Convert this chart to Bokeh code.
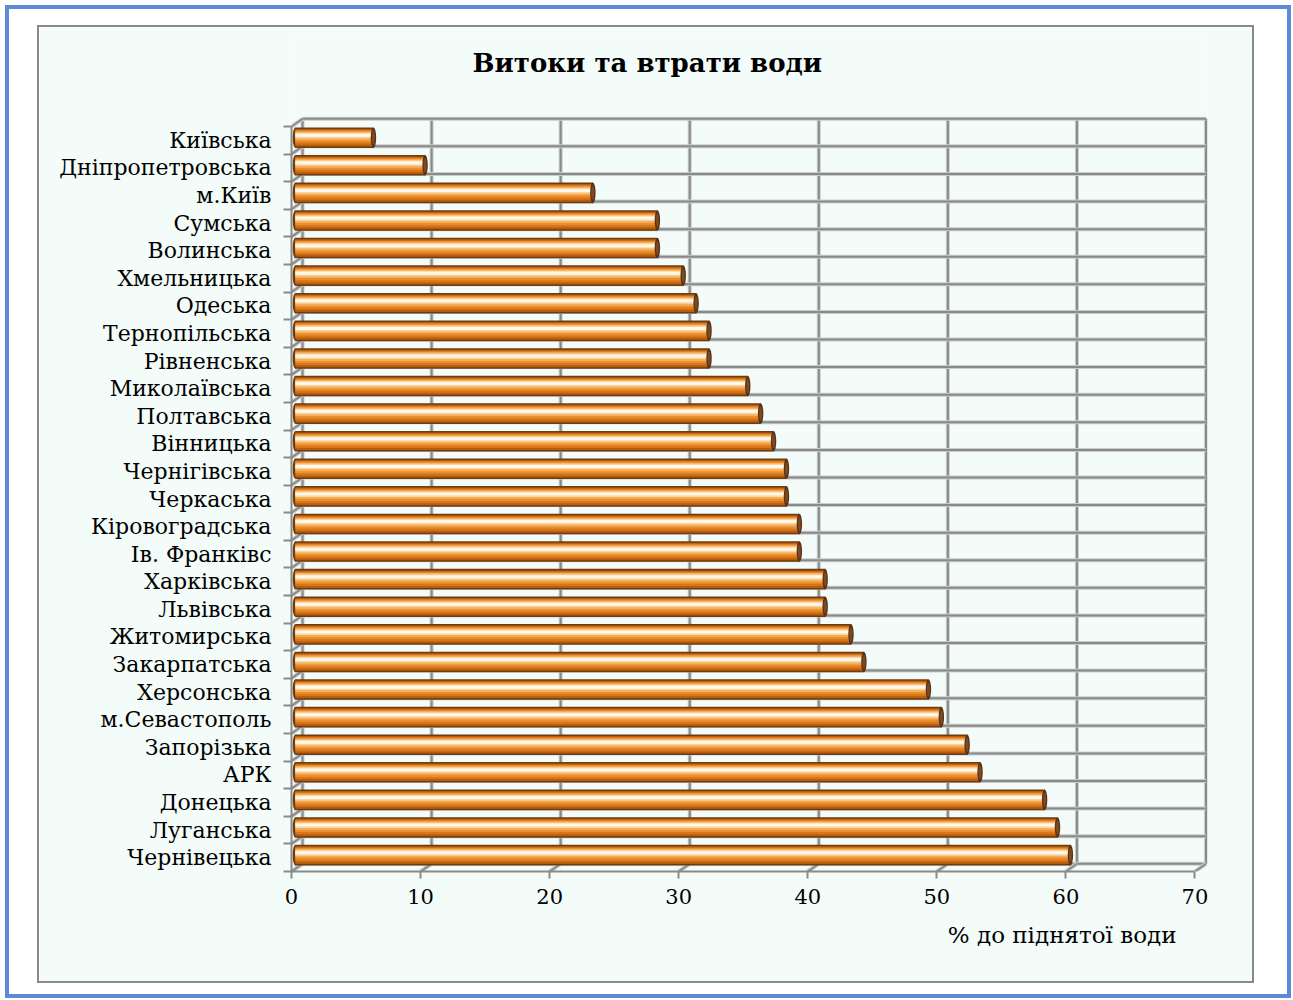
from bokeh.plotting import figure
from bokeh.models import Range1d, FixedTicker, Title, Label
from bokeh.layouts import column
from bokeh.embed import file_html
from bokeh.resources import INLINE

# ---------------- data ----------------
regions = ["Київська", "Дніпропетровська", "м.Київ", "Сумська", "Волинська",
           "Хмельницька", "Одеська", "Тернопільська", "Рівненська", "Миколаївська",
           "Полтавська", "Вінницька", "Чернігівська", "Черкаська", "Кіровоградська",
           "Ів. Франківс", "Харківська", "Львівська", "Житомирська", "Закарпатська",
           "Херсонська", "м.Севастополь", "Запорізька", "АРК", "Донецька",
           "Луганська", "Чернівецька"]
losses = [6, 10, 23, 28, 28, 30, 31, 32, 32, 35, 36, 37, 38, 38, 39, 39, 41, 41,
          43, 44, 49, 50, 52, 53, 58, 59, 60]
x_ticks = [0, 10, 20, 30, 40, 50, 60, 70]
title_text = "Витоки та втрати води"
x_title = "% до піднятої води"

# ---------------- style ----------------
FONT = "DejaVu Serif"
BG = "#F3FCF9"
GRID_DARK = "#8a8a8a"
GRID_LIGHT = "#c9cdcb"
ROW_PX = 27.46      # pixels per category row
UNIT_PX = 12.85     # pixels per x unit
DX = 11.0 / UNIT_PX  # 3-D depth shift (x)
DY = 7.7 / ROW_PX    # 3-D depth shift (y)

W, H = 1217, 958          # including 2px css border
ML, MR, MT, MB = 252, 49, 10, 114

n = len(regions)
idx = list(range(n))
lo, hi = -0.5, n - 0.5
xmax = x_ticks[-1]

p = figure(width=W, height=H,
           x_range=Range1d(0, (W - 4 - ML - MR) / UNIT_PX),
           y_range=Range1d(hi, hi - (H - 4 - MT - MB) / ROW_PX),
           output_backend="svg", toolbar_location=None,
           min_border_left=ML, min_border_right=MR,
           min_border_top=MT, min_border_bottom=MB,
           background_fill_color=BG, border_fill_color=BG,
           outline_line_color=None)
p.xgrid.visible = False
p.ygrid.visible = False

# ---- x axis (front floor edge) ----
xa = p.xaxis[0]
xa.ticker = FixedTicker(ticks=x_ticks, minor_ticks=[])
xa.bounds = (0, xmax)
xa.axis_line_color = GRID_DARK
xa.axis_line_width = 2
xa.major_tick_line_color = GRID_DARK
xa.major_tick_line_width = 2
xa.major_tick_out = 7
xa.major_tick_in = 0
xa.minor_tick_line_color = None
xa.major_label_text_font = FONT
xa.major_label_text_font_size = "21px"
xa.major_label_text_color = "#000000"
xa.major_label_standoff = 10

# axis title, right-aligned below the axis
p.add_layout(Title(text=x_title, align="right", offset=31, standoff=27,
                   text_font=FONT, text_font_size="23px",
                   text_font_style="normal", text_color="#000000"), "below")

# ---- y axis (category labels) ----
ya = p.yaxis[0]
bounds_list = [i - 0.5 for i in range(n + 1)]
ya.ticker = FixedTicker(ticks=idx, minor_ticks=bounds_list)
ya.bounds = (lo, hi)
ya.axis_line_color = GRID_DARK
ya.axis_line_width = 2
ya.major_tick_line_color = None
ya.major_tick_out = 0
ya.major_tick_in = 0
ya.minor_tick_line_color = GRID_DARK
ya.minor_tick_line_width = 2
ya.minor_tick_out = 8
ya.minor_tick_in = 0
ya.major_label_overrides = {i: name for i, name in enumerate(regions)}
ya.major_label_text_font = FONT
ya.major_label_text_font_size = "22px"
ya.major_label_text_color = "#000000"
ya.major_label_standoff = 12

# ---- chart title (inside the open upper part of the frame) ----
p.add_layout(Label(x=(645 - 290.7) / UNIT_PX, y=lo - (125.5 - 62) / ROW_PX,
                   text=title_text, text_font=FONT, text_font_size="26px",
                   text_font_style="bold", text_align="center",
                   text_baseline="middle", text_color="#000000"))

# ---- 3-D walls: back wall grid, side wall and floor edges ----
def wall_segments(x0, y0, x1, y1):
    p.segment(x0=x0, y0=y0, x1=x1, y1=y1, line_color=GRID_LIGHT, line_width=4)
    p.segment(x0=x0, y0=y0, x1=x1, y1=y1, line_color=GRID_DARK, line_width=2)

vx = [t + DX for t in x_ticks]
wall_segments(vx, [hi - DY] * len(vx), vx, [lo - DY] * len(vx))
hy = [b - DY for b in bounds_list]
wall_segments([DX] * len(hy), hy, [xmax + DX] * len(hy), hy)
wall_segments([0] * len(bounds_list), bounds_list, [DX] * len(bounds_list), hy)
wall_segments(x_ticks, [hi] * len(x_ticks), vx, [hi - DY] * len(x_ticks))

# ---- cylinder bars ----
BAR_H = 20.5 / ROW_PX
BAR_OFF = -2.6 / ROW_PX
BAR_START = 0.3
CAP = 0.35
CAP_W = 0.42
ybar = [i + BAR_OFF for i in idx]
right = [v + CAP for v in losses]

p.ellipse(x=[BAR_START] * n, y=ybar, width=CAP_W, height=BAR_H,
          fill_color="#6e3c12", line_color=None)

layers = [  # (height px, offset px, colour)
    (20.5, 0.0, "#6e3c12"),
    (17.5, 0.0, "#b85c0e"),
    (14.5, -0.5, "#d8761a"),
    (11.5, -1.2, "#ea8f2e"),
    (8.5, -1.8, "#f6ad5c"),
    (5.5, -2.2, "#fcd49a"),
    (3.0, -2.4, "#fff8ea"),
]
for hpx, opx, col in layers:
    p.hbar(y=[yy + opx / ROW_PX for yy in ybar], left=BAR_START, right=right,
           height=hpx / ROW_PX, fill_color=col, line_color=None)

p.ellipse(x=right, y=ybar, width=CAP_W, height=BAR_H,
          fill_color="#5a3216", line_color=None)
p.ellipse(x=right, y=ybar, width=CAP_W * 0.55, height=BAR_H * 0.7,
          fill_color="#7c4a22", line_color=None)

p.styles = {"border": "2px solid #8a8a8a"}
layout = column(p, styles={"border": "4px solid #5B8BD6",
                           "padding": "16px 33px 11px 28px",
                           "margin": "5px 0 0 5px"})

open("out.html", "w").write(file_html(layout, INLINE))
